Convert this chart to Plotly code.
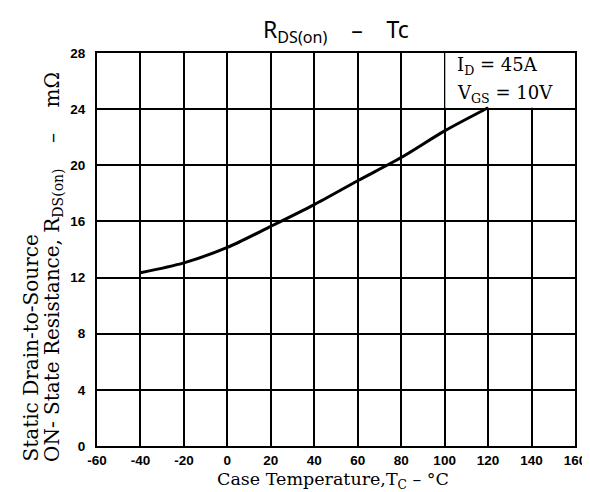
import plotly.graph_objects as go

# Data
temp_c = [-40, -20, 0, 20, 40, 60, 80, 100, 120]
rds_mohm = [12.35, 13.05, 14.15, 15.65, 17.2, 18.9, 20.55, 22.45, 24.1]

x_ticks = [-60, -40, -20, 0, 20, 40, 60, 80, 100, 120, 140, 160]
y_ticks = [0, 4, 8, 12, 16, 20, 24, 28]

W, H = 590, 492
L, R, T, B = 89, 16, 45, 54

fig = go.Figure()
fig.add_trace(go.Scatter(
    x=temp_c, y=rds_mohm, mode="lines",
    line=dict(color="black", width=3, shape="spline", smoothing=0.8),
    showlegend=False, hoverinfo="skip",
))

serif = "DejaVu Serif"
tickfont = dict(family="Liberation Sans", size=13.5, color="black", weight="bold")

fig.update_layout(
    width=W, height=H,
    margin=dict(l=L, r=R, t=T, b=B),
    paper_bgcolor="white", plot_bgcolor="white",
    xaxis=dict(
        range=[-60, 160], tickvals=x_ticks, ticktext=[str(v) for v in x_ticks],
        showgrid=True, gridcolor="black", gridwidth=1.6,
        showline=True, linecolor="black", linewidth=2, mirror=True,
        ticks="", tickfont=tickfont, zeroline=False, ticklabelstandoff=1,
        fixedrange=True,
    ),
    yaxis=dict(
        range=[0, 28], tickvals=y_ticks, ticktext=[str(v) for v in y_ticks],
        showgrid=True, gridcolor="black", gridwidth=1.6,
        showline=True, linecolor="black", linewidth=2, mirror=True,
        ticks="", tickfont=tickfont, zeroline=False, ticklabelstandoff=7,
        fixedrange=True,
    ),
)

# legend box area of the reference has no grid lines
fig.add_shape(type="rect", xref="x", yref="y", x0=100.3, x1=160, y0=24.1, y1=28,
              fillcolor="white", line=dict(width=0), layer="between")

pw = W - L - R
ph = H - T - B

def px_to_x(px):
    return -60 + (px - L) / pw * 220

def py_to_paper(py):
    return (H - B - py) / ph

gap = "\u00a0" * 4

annots = [
    dict(text="R<sub>DS(on)</sub>" + gap + "–" + gap + "Tc", x=px_to_x(332), xref="x",
         y=py_to_paper(22), yref="paper", showarrow=False,
         font=dict(family="Noto Sans", size=23, color="black"),
         xanchor="center", yanchor="middle"),
    dict(text="Case Temperature,T<sub>C</sub> – °C", x=px_to_x(328), xref="x",
         y=py_to_paper(472), yref="paper", showarrow=False,
         font=dict(family=serif, size=17.5, color="black"),
         xanchor="center", yanchor="middle"),
    dict(text="Static Drain-to-Source", x=0, xref="paper", xshift=22 - L,
         y=py_to_paper(456), yref="paper", showarrow=False, textangle=-90,
         font=dict(family=serif, size=20, color="black"),
         xanchor="center", yanchor="bottom"),
    dict(text="ON- State Resistance, R<sub>DS(on)</sub>" + gap + "–" + gap + "mΩ",
         x=0, xref="paper", xshift=45 - L, y=py_to_paper(456), yref="paper",
         showarrow=False, textangle=-90,
         font=dict(family=serif, size=20, color="black"),
         xanchor="center", yanchor="bottom"),
    dict(text="I<sub>D</sub> = 45A", x=px_to_x(452), xref="x",
         y=py_to_paper(58), yref="paper", showarrow=False,
         font=dict(family=serif, size=18, color="black"),
         xanchor="left", yanchor="middle"),
    dict(text="V<sub>GS</sub> = 10V", x=px_to_x(452), xref="x",
         y=py_to_paper(86), yref="paper", showarrow=False,
         font=dict(family=serif, size=18, color="black"),
         xanchor="left", yanchor="middle"),
]
fig.update_layout(annotations=annots)

fig.write_html("out.html")
